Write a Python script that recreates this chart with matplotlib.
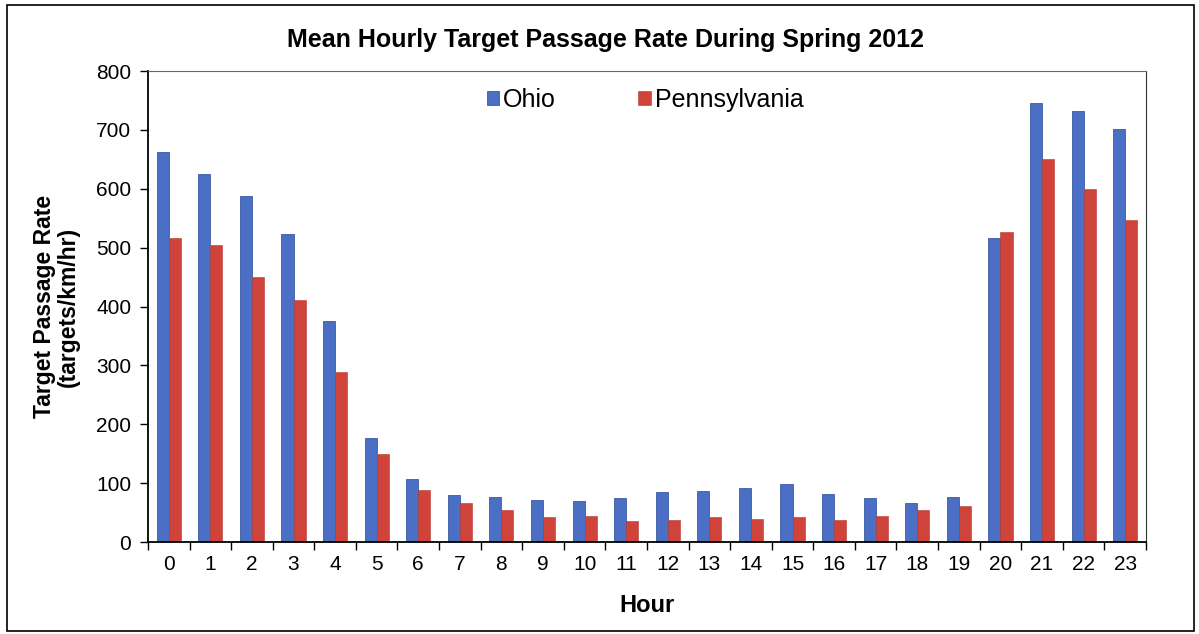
import matplotlib
matplotlib.use("Agg")
from matplotlib import pyplot as plt
import matplotlib.patches as mpatches
import numpy as np

plt.rcParams['font.family'] = ['Liberation Sans', 'DejaVu Sans']

# 数据
hours = [str(h) for h in range(24)]
ohio = [662, 625, 587, 523, 376, 177, 107, 80, 77, 72, 70, 75,
        85, 87, 92, 98, 81, 75, 67, 77, 517, 745, 732, 702]
penn = [516, 505, 450, 411, 289, 149, 88, 66, 55, 43, 45, 36,
        37, 43, 40, 43, 38, 45, 55, 62, 527, 650, 600, 547]
yticks = [0, 100, 200, 300, 400, 500, 600, 700, 800]

fig = plt.figure(figsize=(11.99, 6.34), dpi=100)
ax = fig.add_axes([0.1234, 0.145, 0.8324, 0.743])

x = np.arange(len(hours))
w = 0.29
ax.bar(x - w / 2, ohio, w, color='#4a6fc4', edgecolor='#3b5aa6', linewidth=0.6, label='Ohio')
ax.bar(x + w / 2, penn, w, color='#d0433b', edgecolor='#b8372f', linewidth=0.4, label='Pennsylvania')

ax.set_xlim(-0.5, 23.5)
ax.set_ylim(0, 800)
ax.set_yticks(yticks)
ax.tick_params(axis='y', labelsize=15, direction='out', length=6, width=1, pad=6)
# 刻度线位于类别之间
ax.set_xticks(np.arange(-0.5, 24, 1))
ax.set_xticklabels([])
ax.set_xticks(x, minor=True)
ax.set_xticklabels(hours, minor=True, fontsize=15)
ax.tick_params(axis='x', which='major', direction='out', length=6, width=1)
ax.tick_params(axis='x', which='minor', length=0, pad=9)

for s in ['left', 'bottom']:
    ax.spines[s].set_linewidth(1.3)
ax.spines['top'].set_color('#666666')
ax.spines['right'].set_color('#333333')

ax.set_ylabel("Target Passage Rate\n(targets/km/hr)", fontsize=16.5, fontweight='bold',
              labelpad=12, linespacing=1.05)
ax.set_xlabel("Hour", fontsize=17, fontweight='bold', labelpad=15)
fig.text(0.505, 0.937, "Mean Hourly Target Passage Rate During Spring 2012",
         ha='center', va='center', fontsize=18, fontweight='bold')

fig.legend(loc='center', bbox_to_anchor=(0.538, 0.842), ncol=2, frameon=False,
           fontsize=18, handlelength=0.5, handleheight=0.5, handletextpad=0.15,
           columnspacing=3.3)

# 外框
fig.patches.append(mpatches.Rectangle((0.006, 0.004), 0.99, 0.988, transform=fig.transFigure,
                                      fill=False, edgecolor='black', linewidth=1.2))

fig.savefig("out.png", dpi=100)
